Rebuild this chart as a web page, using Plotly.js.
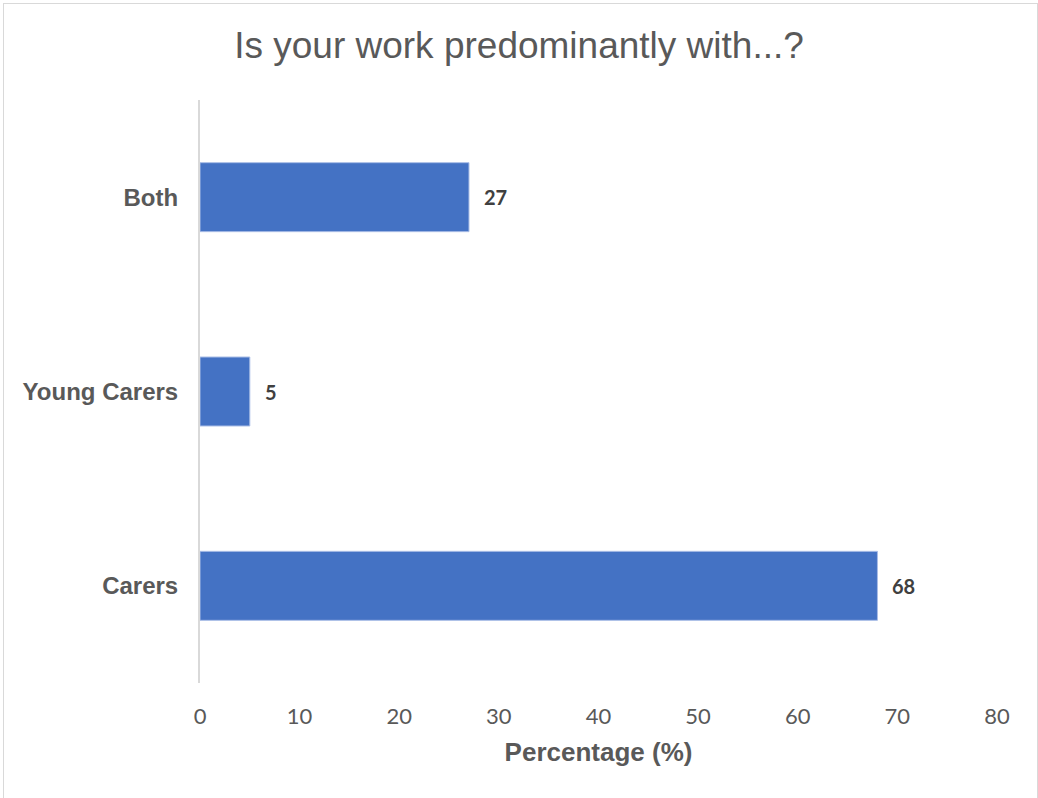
<!DOCTYPE html>
<html>
<head>
<meta charset="utf-8">
<script src="https://cdn.plot.ly/plotly-3.0.1.min.js"></script>
<style>
  html, body { margin: 0; padding: 0; background: #ffffff; }
  #wrap { position: relative; width: 1038px; height: 798px; }
  #chart { width: 1038px; height: 798px; }
  #frame {
    position: absolute; left: 3px; top: 3px; width: 1033px; height: 800px;
    border: 1px solid #d9d9d9; pointer-events: none;
  }
</style>
</head>
<body>
<div id="wrap">
  <div id="chart"></div>
  <div id="frame"></div>
</div>
<script>
// Survey answers, bottom to top
const categories = ['Carers', 'Young Carers', 'Both'];
const percentages = [68, 5, 27];
const xTicks = [0, 10, 20, 30, 40, 50, 60, 70, 80];

const bars = {
  type: 'bar',
  orientation: 'h',
  y: categories,
  x: percentages,
  marker: { color: '#4472c4', line: { color: '#a9bde6', width: 1 } },
  width: 0.355,
  hoverinfo: 'x+y'
};

// Value labels placed just to the right of each bar end
const valueLabels = categories.map((c, i) => ({
  x: percentages[i], y: c, xref: 'x', yref: 'y',
  text: '<b>' + percentages[i] + '</b>',
  showarrow: false, xanchor: 'left', yanchor: 'middle', xshift: 13,
  font: { family: 'Lato, "Open Sans", sans-serif', size: 20, color: '#404040' }
}));

const layout = {
  width: 1038, height: 798,
  margin: { l: 200, r: 41, t: 100, b: 115, pad: 0 },
  paper_bgcolor: '#ffffff', plot_bgcolor: '#ffffff',
  showlegend: false,
  title: {
    text: 'Is your work predominantly with...?',
    font: { family: '"Liberation Sans", Arial, sans-serif', size: 37, color: '#595959' },
    x: 0.5, xanchor: 'center', y: 0.944, yanchor: 'middle'
  },
  xaxis: {
    range: [0, 80], tickvals: xTicks, ticktext: xTicks.map(String),
    showgrid: false, zeroline: false, showline: false,
    ticks: 'outside', ticklen: 14, tickcolor: 'rgba(0,0,0,0)',
    tickfont: { family: 'Lato, "Open Sans", sans-serif', size: 22, color: '#595959' },
    title: {
      text: '<b>Percentage (%)</b>', standoff: 14,
      font: { family: '"Liberation Sans", Arial, sans-serif', size: 26, color: '#595959' }
    },
    fixedrange: true
  },
  yaxis: {
    type: 'category', categoryorder: 'array', categoryarray: categories,
    range: [-0.5, 2.5],
    showgrid: false, zeroline: false,
    showline: true, linecolor: '#d9d9d9', linewidth: 2,
    ticks: 'outside', ticklen: 15, tickcolor: 'rgba(0,0,0,0)',
    tickfont: { family: '"Liberation Sans", Arial, sans-serif', size: 24, color: '#595959' },
    tickprefix: '<b>', ticksuffix: '</b>',
    fixedrange: true
  },
  annotations: valueLabels
};

Plotly.newPlot('chart', [bars], layout, { displayModeBar: false, staticPlot: true });
</script>
</body>
</html>
